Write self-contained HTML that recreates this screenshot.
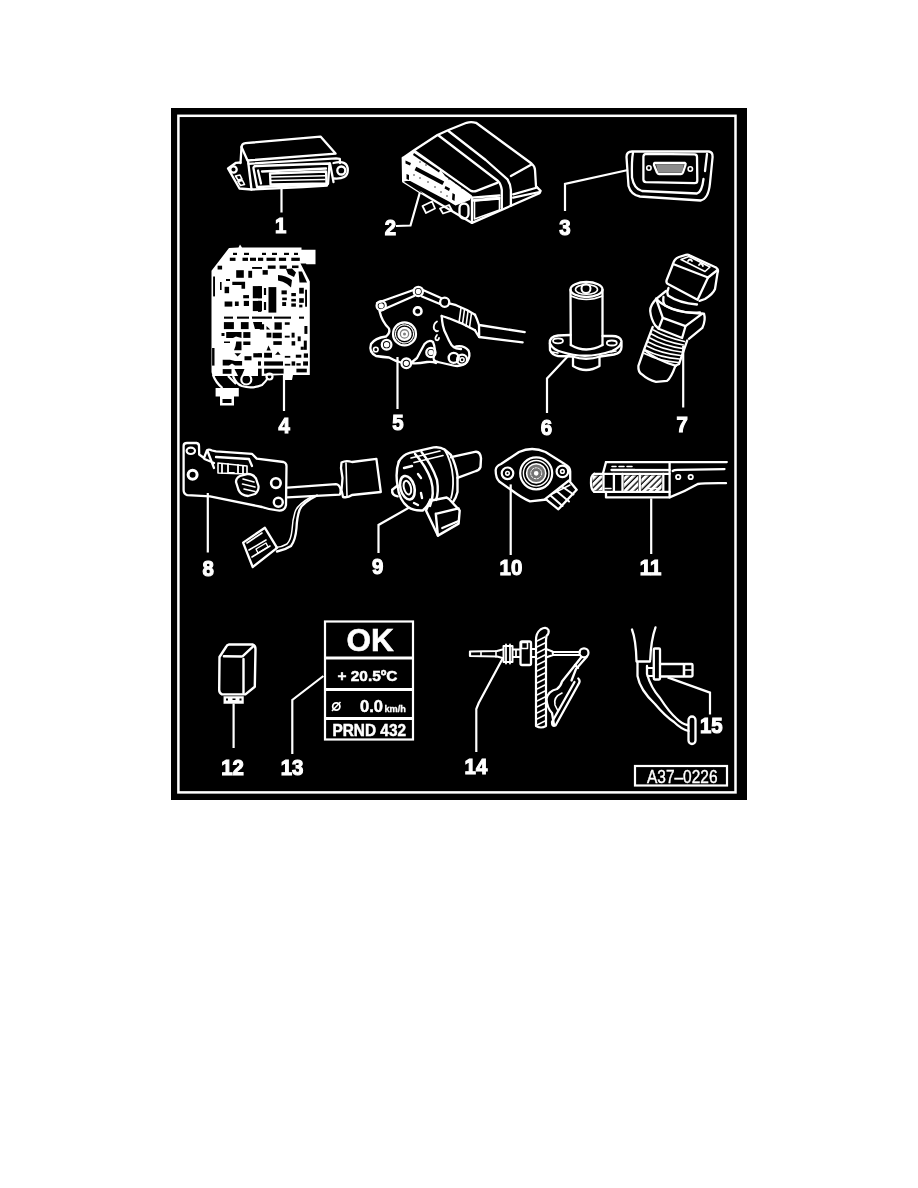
<!DOCTYPE html>
<html><head><meta charset="utf-8">
<style>
html,body{margin:0;padding:0;background:#fff;width:918px;height:1188px;overflow:hidden}
svg{position:absolute;left:0;top:0;display:block;filter:grayscale(1)}
text{font-family:"Liberation Sans",sans-serif;fill:#fff}
.lb{font-weight:bold;font-size:21.5px;stroke:#fff;stroke-width:1.1px}
</style></head>
<body>
<svg width="918" height="1188" viewBox="0 0 918 1188">
<rect x="171" y="108" width="576" height="692" fill="#000"/>
<rect x="178.4" y="115.8" width="557.1" height="676.6" fill="none" stroke="#fff" stroke-width="2.5"/>
<text transform="translate(275.00,232.95) scale(0.95,1)" class="lb">1</text>
<text transform="translate(384.85,234.80) scale(0.95,1)" class="lb">2</text>
<text transform="translate(559.35,234.70) scale(0.95,1)" class="lb">3</text>
<text transform="translate(278.40,432.60) scale(0.95,1)" class="lb">4</text>
<text transform="translate(392.30,430.35) scale(0.95,1)" class="lb">5</text>
<text transform="translate(540.85,434.60) scale(0.95,1)" class="lb">6</text>
<text transform="translate(676.60,432.05) scale(0.95,1)" class="lb">7</text>
<text transform="translate(202.45,575.65) scale(0.95,1)" class="lb">8</text>
<text transform="translate(372.00,574.00) scale(0.95,1)" class="lb">9</text>
<text transform="translate(499.55,575.40) scale(0.95,1)" class="lb">10</text>
<text transform="translate(639.70,574.50) scale(0.95,1)" class="lb">11</text>
<text transform="translate(221.25,774.70) scale(0.95,1)" class="lb">12</text>
<text transform="translate(280.75,774.70) scale(0.95,1)" class="lb">13</text>
<text transform="translate(464.60,774.25) scale(0.95,1)" class="lb">14</text>
<text transform="translate(699.90,732.95) scale(0.95,1)" class="lb">15</text>
<g id="c13" fill="none" stroke="#fff" stroke-width="2.2">
<rect x="325" y="621.5" width="88" height="118"/>
<line x1="325" y1="658" x2="413" y2="658" stroke-width="3"/>
<line x1="325" y1="689.5" x2="413" y2="689.5" stroke-width="3"/>
<line x1="325" y1="718.5" x2="413" y2="718.5" stroke-width="3"/>
</g>
<g fill="#fff" stroke="none">
<text x="346.5" y="651" style="font-weight:bold;font-size:31.5px;stroke:#fff;stroke-width:0.6px">OK</text>
<text x="337.5" y="680.8" style="font-weight:bold;font-size:15.5px;stroke:#fff;stroke-width:0.5px" textLength="60" lengthAdjust="spacingAndGlyphs">+ 20.5ºC</text>
<circle cx="336.3" cy="706.5" r="3.6" fill="none" stroke="#fff" stroke-width="1.8"/><path d="M332 711 L340.5 702" stroke="#fff" stroke-width="1.6"/>
<text x="360" y="711.8" style="font-weight:bold;font-size:16.5px;stroke:#fff;stroke-width:0.5px">0.0</text>
<text x="384.5" y="711.5" style="font-weight:bold;font-size:9px;stroke:#fff;stroke-width:0.3px" textLength="21.5" lengthAdjust="spacingAndGlyphs">km/h</text>
<text x="332.5" y="736" style="font-weight:bold;font-size:16.5px;stroke:#fff;stroke-width:0.5px" textLength="73.5" lengthAdjust="spacingAndGlyphs">PRND 432</text>
</g>

<g id="a37">
<rect x="635" y="766" width="92" height="19.5" fill="none" stroke="#fff" stroke-width="2.2"/>
<text x="647" y="782.7" style="font-size:17.5px;stroke:#fff;stroke-width:0.4px" textLength="70.5" lengthAdjust="spacingAndGlyphs">A37–0226</text>
</g>

<g id="leaders" fill="none" stroke="#fff" stroke-width="2.2">
<path d="M281.5 188 V212.5"/>
<path d="M420 192 L410.5 225.5 L396 226"/>
<path d="M628 170 L565 184 V211"/>
<path d="M284 374 V411"/>
<path d="M397.5 357 V409"/>
<path d="M569.5 354.5 L547 378.5 V413"/>
<path d="M683.2 346 V407.5"/>
<path d="M207.8 493 V552.5"/>
<path d="M409.6 507.3 L378.5 525 V553"/>
<path d="M510.7 484.4 V555"/>
<path d="M651.2 498.4 V554"/>
<path d="M233.6 703.5 V748"/>
<path d="M323.4 676 L292.3 700 V754"/>
<path d="M502.4 659 L478.7 703 L476.3 709 V752"/>
<path d="M667.6 677.4 L710 692.6 V714.5"/>
</g>



<g id="c1" fill="none" stroke="#fff" stroke-width="2.3" stroke-linejoin="round" stroke-linecap="round">
<path d="M241.5 147 Q241.8 143.6 245.5 143.2 L320.5 136.6 L335.5 153.6 L247.5 160.5 Z"/>
<path d="M241.5 147 L240.5 163"/>
<path d="M248.5 163.8 L336 158.3 L339.8 158.8 L340 163"/>
<path d="M248 160.5 L251.5 189.5 L303 187 L327 185.5"/>
<path d="M240.5 162.5 L236 162.8 L228 168.5 L239.5 188.5 L251.5 189.5"/>
<circle cx="233.5" cy="169.5" r="3.2"/>
<path d="M235.5 176 L240 175 L242 179 L238 180 Z M238 181.5 L242.5 180.5 L244.5 184.5 L240.5 185.5 Z" stroke-width="1.6"/>
<path d="M253.5 168.5 Q253 166.2 256 166 L329.5 163.5 L328 184 L257 187 Z"/>
<path d="M258 170.5 L261 183.5"/>
<path d="M262 171.5 L326 168.5"/>
<path d="M270 173.5 L326 171.5 L326.5 183.5 L270.5 184.5 Z"/>
<path d="M271 177 L325 175.8 M271 180.5 L325 179.5" stroke-width="1.4"/>
<path d="M333.5 163 Q348 159.5 347.8 170.5 Q347.5 179.5 334 178.5"/>
<circle cx="341.3" cy="170.5" r="4"/>
<path d="M330 163.5 L333.5 182"/>
</g>

<g id="c2" fill="none" stroke="#fff" stroke-width="2.3" stroke-linejoin="round" stroke-linecap="round">
<path d="M403 158 L414.5 150 L437.5 135 L448.5 130 L466.5 122.8 Q471 121.3 476 122.8 L531.5 163.5 Q535 166.5 535 170 L536 186.3 L540.6 190.9 L539.5 193.2 L472 222.9"/>
<path d="M414.5 151 L470.9 190.9 Q474 192 476.6 190.9 L497.2 182.9 M510.9 176 L531.5 164.6"/>
<path d="M438 135 L498 181 Q501 184 501.8 190 L501.8 208"/>
<path d="M448.5 131 L485.7 160 L507.5 179.4 Q510.5 184 510.9 190 L510.9 205.8"/>
<path d="M440 174.9 L472 197.7 L499.5 195.5 M472 200.5 L499.5 198 M513.2 194.3 L537.2 187.5 M513.2 197.7 L539.5 192"/>
<path d="M472 197.7 L472 222.9"/>
<path d="M474.5 201 L499.5 199 L499.5 210 L474.5 219 Z" stroke-width="1.6"/>
<path d="M402.8 158 L403.2 181.6 L419.8 192.1 L472 222.9"/>
<path fill="#fff" stroke="none" d="M404 157 L409 154 L414.5 151 L440 169 L445 176 L472 195.5 L470 200 L455.5 205.5 L448 201 L410.2 181 L404 181 Z"/>
<g fill="#000" stroke="none">
<path d="M416.3 166.8 L444.2 181.6 L442.4 185.1 L414.6 170.3 Z"/>
<path d="M405.5 160.5 L411 163 L410 165.5 L405.5 163.5 Z"/>
<path d="M445.5 186 L450 188.5 L449 191 L444.5 188.5 Z"/>
<path d="M452.5 193 L455 194.5 L454.5 201 L452 199.5 Z"/>
<path d="M406.5 174 L409 175 L409 180 L406.5 179 Z"/>
<path d="M403.5 181.5 L419.8 192 L423 193.5 L410.2 182.5 Z"/>
<path d="M414 153 L440 170.5 L439 172.5 L413 155 Z"/>
<circle cx="420" cy="162" r="0.7"/><circle cx="426" cy="165" r="0.7"/><circle cx="449" cy="179" r="0.7"/><circle cx="456" cy="183" r="0.7"/><circle cx="462" cy="188" r="0.7"/>
<circle cx="414" cy="175" r="0.7"/><circle cx="420" cy="178" r="0.7"/><circle cx="428" cy="182" r="0.7"/><circle cx="435" cy="187" r="0.7"/><circle cx="441" cy="192" r="0.7"/><circle cx="447" cy="196" r="0.7"/>
</g>
<path d="M422.5 206 L432 201.5 L435 208.5 L426 213 Z M440 208.5 L449 205 L452 210.5 L443 213.5 Z" stroke-width="1.8"/>
<rect x="459.5" y="203.5" width="9" height="15" rx="4.5"/>
<path d="M393 116.5 L398 116.5" stroke-width="1.2"/>
</g>

<g id="c3" fill="none" stroke="#fff" stroke-width="2.3" stroke-linejoin="round" stroke-linecap="round">
<path d="M626.5 157 Q626.5 151.5 632 151.5 L709 151.5 Q712.8 152 712.6 157 L710 183 Q708.5 199 700.5 200.5 L640 196.5 Q631 195 628.5 186 Z"/>
<path d="M633 152.8 Q631.5 160 632 177.5 Q634 189 642 191 L697 193.5 Q702 192 703.5 179"/>
<path d="M707 154 L705 171"/>
<path d="M646.5 153.8 L694.5 154.3 Q697 154.5 697 157 L697.3 180.5 Q697.3 183.2 694.5 183.2 L646 182.2 Q643.4 182 643.4 179.5 L643.4 156.5 Q643.5 153.8 646.5 153.8 Z"/>
<path d="M655 163 L685 163 Q686 163.5 685.5 165 L683 172.5 Q682.5 174 681 174 L659 174 Q657.5 174 657 172.5 L654 165 Q653.8 163.2 655 163 Z"/>
<path d="M656 164.5 L684 164.5 L682 172.5 L658 172.5 Z" fill="#fff" fill-opacity="0.55" stroke="none"/>
<circle cx="648.9" cy="168" r="2.2" stroke-width="1.6"/>
<circle cx="690.3" cy="169" r="2.2" stroke-width="1.6"/>
</g>

<g id="c4">
<path fill="#fff" d="M229 248 L238.5 247.5 L240 244.5 L242 247.5 L301.5 247.5 L301.5 249.8 L306.4 249.8 L315.5 249.8 L315.5 264.2 L306.4 264.2 L306 263.6 L300.5 263.6 L309.8 281.5 L309.8 375 L293 375 L292 380 L285 380 L284 375 L262 376 L212.5 376 L211.5 372 L211.5 270.8 L229 248 Z"/>
<g fill="#000">
<rect x="229.8" y="257.7" width="5.7" height="3.2"/>
<rect x="242.5" y="257.7" width="5.5" height="3.2"/>
<rect x="250.0" y="257.7" width="6.0" height="3.2"/>
<rect x="258.0" y="257.7" width="5.2" height="3.2"/>
<rect x="266.5" y="257.7" width="9.1" height="3.2"/>
<rect x="278.9" y="257.7" width="7.2" height="3.2"/>
<rect x="291.3" y="257.7" width="8.5" height="3.2"/>
<rect x="233.0" y="252.8" width="4.0" height="2.2"/>
<rect x="244.0" y="252.8" width="5.0" height="2.2"/>
<rect x="262.0" y="252.8" width="4.0" height="2.2"/>
<rect x="272.0" y="252.8" width="5.0" height="2.2"/>
<rect x="284.0" y="252.8" width="5.0" height="2.2"/>
<rect x="294.0" y="252.8" width="4.0" height="2.2"/>
<rect x="217.6" y="265.7" width="4.5" height="3.8"/>
<rect x="236.2" y="270.2" width="7.6" height="7.6"/>
<rect x="248.3" y="270.8" width="3.8" height="7.0"/>
<rect x="252.1" y="267.0" width="9.9" height="1.9"/>
<rect x="213.1" y="276.5" width="1.9" height="19.9"/>
<rect x="224.6" y="286.8" width="4.5" height="6.4"/>
<rect x="252.8" y="286.1" width="9.2" height="12.2"/>
<rect x="224.6" y="301.5" width="7.7" height="5.1"/>
<rect x="234.9" y="301.5" width="3.8" height="4.5"/>
<rect x="243.8" y="300.9" width="5.2" height="5.1"/>
<rect x="252.8" y="300.9" width="9.2" height="10.2"/>
<rect x="243.2" y="295.1" width="5.8" height="3.2"/>
<rect x="220.0" y="282.0" width="1.6" height="8.0"/>
<rect x="226.0" y="279.0" width="4.0" height="2.0"/>
<rect x="267.8" y="265.5" width="7.8" height="3.3"/>
<rect x="279.6" y="265.5" width="7.2" height="3.3"/>
<rect x="292.0" y="265.5" width="6.5" height="2.6"/>
<rect x="262.6" y="270.1" width="5.2" height="4.6"/>
<rect x="258.0" y="286.4" width="3.3" height="11.8"/>
<rect x="268.5" y="287.1" width="7.8" height="25.5"/>
<rect x="258.0" y="300.8" width="3.3" height="11.1"/>
<rect x="263.9" y="288.0" width="2.2" height="7.0"/>
<rect x="263.9" y="302.0" width="2.2" height="8.0"/>
<rect x="281.5" y="290.4" width="5.3" height="3.9"/>
<rect x="282.2" y="297.6" width="4.6" height="2.6"/>
<rect x="282.2" y="302.1" width="3.9" height="3.9"/>
<rect x="291.3" y="293.0" width="4.6" height="3.2"/>
<rect x="291.3" y="298.9" width="4.6" height="2.6"/>
<rect x="291.3" y="303.4" width="4.6" height="3.3"/>
<rect x="299.2" y="287.8" width="4.6" height="5.8"/>
<rect x="299.2" y="298.2" width="4.6" height="4.6"/>
<rect x="299.2" y="304.7" width="3.2" height="2.7"/>
<rect x="305.1" y="289.7" width="1.9" height="17.0"/>
<rect x="224.0" y="316.6" width="9.0" height="2.1"/>
<rect x="237.0" y="316.6" width="12.0" height="2.1"/>
<rect x="252.0" y="316.6" width="20.0" height="2.1"/>
<rect x="274.0" y="316.6" width="17.0" height="2.1"/>
<rect x="299.0" y="316.6" width="5.0" height="2.1"/>
<rect x="223.9" y="322.1" width="10.0" height="7.0"/>
<rect x="240.9" y="322.1" width="7.7" height="7.0"/>
<rect x="243.3" y="332.1" width="7.1" height="5.8"/>
<rect x="243.3" y="341.5" width="7.1" height="3.5"/>
<rect x="244.5" y="356.2" width="7.0" height="4.1"/>
<rect x="253.3" y="353.2" width="8.7" height="4.2"/>
<rect x="222.7" y="369.1" width="8.8" height="4.7"/>
<rect x="212.1" y="348.0" width="2.4" height="17.6"/>
<rect x="221.5" y="333.0" width="3.0" height="3.0"/>
<rect x="224.0" y="341.5" width="6.0" height="1.5"/>
<rect x="274.5" y="322.3" width="7.3" height="7.3"/>
<rect x="259.8" y="324.2" width="4.3" height="5.4"/>
<rect x="284.8" y="322.3" width="4.9" height="2.5"/>
<rect x="304.4" y="326.0" width="3.0" height="7.9"/>
<rect x="266.5" y="332.7" width="4.9" height="4.9"/>
<rect x="272.6" y="332.7" width="9.2" height="5.5"/>
<rect x="284.8" y="335.7" width="4.9" height="1.9"/>
<rect x="291.6" y="332.7" width="3.0" height="4.9"/>
<rect x="297.7" y="336.4" width="3.0" height="4.8"/>
<rect x="273.3" y="341.2" width="8.5" height="3.7"/>
<rect x="291.6" y="341.2" width="3.6" height="4.3"/>
<rect x="303.8" y="340.6" width="3.0" height="9.2"/>
<rect x="300.7" y="346.7" width="3.1" height="3.1"/>
<rect x="258.0" y="353.4" width="3.0" height="3.1"/>
<rect x="264.1" y="352.8" width="7.9" height="4.9"/>
<rect x="284.8" y="355.9" width="5.5" height="1.8"/>
<rect x="295.8" y="354.7" width="5.5" height="3.0"/>
<rect x="303.8" y="353.4" width="4.2" height="4.3"/>
<rect x="258.0" y="361.4" width="3.0" height="4.2"/>
<rect x="264.1" y="361.4" width="18.9" height="4.2"/>
<rect x="284.8" y="363.8" width="5.5" height="1.8"/>
<rect x="291.6" y="361.4" width="3.6" height="4.2"/>
<rect x="296.4" y="363.2" width="4.3" height="2.4"/>
<rect x="303.1" y="361.4" width="4.9" height="4.2"/>
<rect x="258.0" y="368.7" width="3.7" height="7.3"/>
<rect x="264.1" y="368.7" width="19.5" height="4.9"/>
<rect x="296.4" y="368.7" width="10.4" height="3.7"/>
<path d="M232.3 281.7 L245.1 281.7 L245.1 288.7 L241.5 288.7 L241.5 285 L232.3 285 Z"/>
<path d="M286 269 L292 268.5 L296 272.5 L294 277 L288 274 Z"/>
<path d="M298.5 271.4 L302 271.4 L307 282.5 L299.5 282.5 Z"/>
<path d="M278 275 Q286 275.5 292 280 L291 287.5 L287 284 Q283 281 278 280.5 Z"/>
<path d="M226.2 332.1 L241.5 332.1 L241.5 337.9 L236 336.5 L233 337.9 L226.2 337.9 Z"/>
<path d="M236.2 341.5 L241.5 341.5 L241.5 350.3 L234 350.3 Q236 346 236.2 341.5 Z"/>
<path d="M234.5 353.2 L241 353.2 L237.5 356.5 Z"/>
<path d="M222.7 359.7 L230 359.7 L235 361 L242.1 361 L242.1 365.6 L235 365.6 L232 363.5 L229 365.6 L222.7 365.6 Z"/>
<path d="M234.5 369.1 L244.5 369.1 L240 379.7 Z"/>
<path d="M253 322 L262 322 L262 329 L255 329 Z"/>
<path d="M266.5 326 L270.2 329.6 L266.5 329.6 Z"/>
<path d="M266.5 350.4 L270.8 350.4 L268.5 345.5 Z"/>
<path d="M275.1 354.7 L280.6 354.7 L278 351.6 Z"/>
</g>
<g fill="none" stroke="#fff" stroke-width="2.2" stroke-linejoin="round">
<path d="M213 375 Q216 383 222.5 388"/>
<circle cx="246.3" cy="379.5" r="5"/>
<path d="M233 376 Q236 384 242 386 Q252 389 262 385 Q266 381 268 378"/>
<circle cx="269.5" cy="376.5" r="3"/>
<path d="M228 376 L236 384"/>
</g>
<path fill="#fff" d="M215.6 388 L238.8 388 L238.8 396.5 L234 396.5 L234 405.5 L220 405.5 L220 396.5 L215.6 396.5 Z"/>
<rect x="222.5" y="399" width="9" height="4" fill="#000"/>
</g>
<g id="c5" fill="none" stroke="#fff" stroke-width="2.3" stroke-linejoin="round" stroke-linecap="round">
<path d="M377 303 L413.5 290 M381 310.5 L414 296 M423 290 L441 298 M422 296.5 L440 304"/>
<path d="M379.5 311 Q382 322 389 328.5 Q390.5 333 386 336.5 Q375 338 371 344 Q368.5 352 376 356 Q383 357 389 357.5 Q395 361 401 362.5 M411.5 362.5 L417 358 Q420 352 424.5 344 Q429 339 433 342 Q436 349 434 356 Q432 361 438 362 L451 365 Q461 368 467 362 Q471 356 468.5 350.5 Q464 345 456 346.5 L454 347"/>
<path d="M411 363 Q416 364 427 362 Q433 361.5 436 363"/>
<circle cx="418.3" cy="291.4" r="4.6"/>
<circle cx="418.3" cy="291.4" r="1.5" fill="#fff"/>
<circle cx="381.2" cy="305.8" r="4.6"/>
<circle cx="381.2" cy="305.8" r="1.5" fill="#fff"/>
<circle cx="444.7" cy="302.2" r="4.6"/>
<circle cx="417.7" cy="311.2" r="3.8" stroke-width="2.6"/>
<circle cx="404.5" cy="333.9" r="11.5" stroke-width="2.2"/>
<circle cx="404.5" cy="333.9" r="9" stroke-width="1.2" stroke-dasharray="1.5 1"/>
<circle cx="404.5" cy="333.9" r="6" stroke-width="2.4" fill="#fff" fill-opacity="0.5"/>
<circle cx="404.5" cy="333.9" r="2.5" stroke-width="2"/>
<circle cx="386.6" cy="344.7" r="4.8"/>
<circle cx="386.6" cy="344.7" r="1.6" fill="#fff"/>
<circle cx="375.8" cy="349.5" r="2.3" stroke-width="1.6"/>
<circle cx="406.3" cy="363.3" r="4.8"/>
<circle cx="406.3" cy="363.3" r="1.5" fill="#fff"/>
<circle cx="430.9" cy="352.5" r="4.6"/>
<circle cx="430.9" cy="352.5" r="1.5" fill="#fff"/>
<circle cx="453.7" cy="357.9" r="5" stroke-width="2.4"/>
<circle cx="462.1" cy="359.7" r="5"/>
<circle cx="462.1" cy="359.7" r="2" stroke-width="1.5"/>
<path d="M448.9 303.4 Q452 303.8 456.1 305.2 L466.9 310 L475 314.8 M441.7 316 Q445 317 448.9 318.3 L460.9 323.1 L475 330.3"/>
<path d="M461 308 L459 322.5 M464.5 309.5 L462.5 324 M468 311.5 L466 326 M471.5 313 L469.5 327.5" stroke-width="1.6"/>
<path d="M475 314.8 Q477 319 479 325 L524.7 332.1 M475 330.3 Q477 334 479.2 337 L522.6 342.4"/>
<path d="M479 325 L479.2 337"/>
<path d="M441.7 316 Q442 321 442.9 325.5 Q444 331 446.5 335.1 Q449 341 451.3 344.7 Q454 348 456.1 348.3 L461 349"/>
<path d="M437 321.5 Q433 324 434 329 Q436 332 438 331 M437 335 Q434.5 338 436 340 Q438.5 341 439 338" stroke-width="1.8"/>
</g>

<g id="c6" fill="none" stroke="#fff" stroke-width="2.3" stroke-linejoin="round" stroke-linecap="round">
<path d="M570.5 290 L570.8 345"/>
<path d="M602.5 290 L602.5 345"/>
<ellipse cx="586.5" cy="289.5" rx="16" ry="7.5"/>
<ellipse cx="586.5" cy="289.5" rx="11" ry="4.8" stroke-width="1.6"/>
<circle cx="586" cy="288.5" r="4.5" stroke-width="2"/>
<path d="M571 296 Q586 303 602.5 296" stroke-width="1.6"/>
<path d="M570.8 345 Q586 354 602.5 345"/>
<path d="M570.5 335 L558 335.5 Q549.5 336.5 549.8 343 L550 350 Q552 355 558 356 L572.5 356.5 Q586 361 600 356.5 L614 354.5 Q621.5 353 621.5 347 L621.5 341 Q620 336 612 336 L602.5 336"/>
<path d="M550 343.5 Q553 350 562 352 Q586 360 612 351 Q620 347.5 621 343"/>
<ellipse cx="558" cy="340.8" rx="5" ry="2.5" stroke-width="1.8"/>
<ellipse cx="611.8" cy="343" rx="5" ry="2.5" stroke-width="1.8"/>
<path d="M552.5 352 L558 353 M616 351 L611 352" stroke-width="1.6"/>
<path d="M573 356.5 L573 366 Q586 374 599.5 366 L599.5 356.5"/>
</g>

<g id="c7" fill="none" stroke="#fff" stroke-width="2.3" stroke-linejoin="round" stroke-linecap="round">
<path d="M673 264 Q674 259 679 257 L686 254.8 Q688 254.3 690 255.5 L716 267.5 Q719 269.5 717.5 273 L715 289 Q713 294 705 299 L699.5 300.8"/>
<path d="M673 264 L708 277.5 L717.5 270"/>
<path d="M673 264 L666.5 280.5 Q666 283 668 284 L697.5 299.8 L708 277.5"/>
<path d="M681 259.5 L689 256.5 L710 267 L705 271.5 Z" stroke-width="1.6"/>
<path d="M688 261 Q690 258 692 261 M699 265 Q701 262 703 266" stroke-width="1.8"/>
<path d="M668.5 288 Q666.5 292 668 295.5 Q679 303 697 304.5"/>
<path d="M663.5 297 Q662.5 302 665 305.5 Q680 314 700 312.5"/>
<path d="M666 291 L656.9 298.4 Q650 305 650.2 311 Q651 319 655.2 325.4 L658.6 328.7"/>
<path d="M656 298.5 Q668 312 700 313.5 L704 313.6 Q706 320 702.3 327.9 L688.9 338.8"/>
<path d="M656.5 300 L662.8 317.8 L685.5 326.2 L702 313.8"/>
<path d="M662.8 317.8 L658.6 328.7 L682.1 338 L685.5 326.2"/>
<path d="M652.7 327 L644.3 349 L638.4 365.8 Q638 372 641.7 374.2 Q648 380 656 381.8 L667 380.9 Q671 378 675.4 365.8 L679 364 L687.2 340.5"/>
<path d="M653.5 330 Q665 337 684.5 341.5 M651.5 334 Q664 341.5 683.5 345 M650 338 Q663 345.5 682.5 348.5 M648.5 342 Q662 349.5 681.5 352 M647 346 Q661 353.5 680.5 355.5 M645.5 350 Q660 357.5 679.5 359 M644.5 353.5 Q659 361 678.5 362.5" stroke-width="1.5"/>
<path d="M644.3 350 Q656 360 676 365.8"/>
</g>

<g id="c8" fill="none" stroke="#fff" stroke-width="2.3" stroke-linejoin="round" stroke-linecap="round">
<path d="M183.6 446 Q183.6 443 187 443 L196.5 443 Q199 443.5 199 446 L199.2 454.5 L204 458 L207 450.2 Q209 449 212 450.5 L216 451.4 L251.9 453.8 L256.7 458.6 L283.5 462 Q286.5 463 286.5 466 L286 505 Q285 510.5 279.5 510.7 Q270 510 262 507 L210 496.3 L187.2 495.1 Q183.6 494 183.6 490 Z"/>
<ellipse cx="190.8" cy="450.8" rx="4.2" ry="3.2" stroke-width="2.2"/>
<circle cx="192.6" cy="474.8" r="4.5" stroke-width="3"/>
<circle cx="275.9" cy="483.1" r="4.8" stroke-width="2.6"/>
<circle cx="278.3" cy="502.3" r="4.5" stroke-width="2.4"/>
<path d="M207.5 451 L214 468 M204.5 459 L214 463 M216 457 L249 459 L252 466"/>
<path d="M218 463 L247 466 L247 474 L218 473 Z" stroke-width="1.6"/>
<path d="M222 464 L222 473 M228 464 L228 473 L234 473 M238 465 L238 473 M243 466 L243 474" stroke-width="1.8"/>
<path d="M240 476 Q236 478 236 482 L238.5 490 Q241 495.5 248 496 L255 494 Q259 491 258.5 486 L256 478.5 Q253 474 248 474 Z"/>
<path d="M243 479 L254 482 M242.5 484 L255 487 M244 489 L255 491.5" stroke-width="1.6"/>
<path d="M287.5 487.7 L336 484.2 Q339 484.5 340.5 489 Q341 493 339.8 494.7 L287.5 497.3"/>
<path d="M341.5 462.5 Q346 460 352 462 L376.4 458.9 L380.8 492 L352 495 Q348 498 343 497 L341.5 490 L342.5 478 L341 468 Z"/>
<path d="M346 463 L347 496" stroke-width="1.6"/>
<path d="M317 495.5 Q302 503 299.5 510 Q297 517 296.5 528 Q295.5 540 291 546 Q285 550 277 551.5"/>
<path d="M311 497 Q297 505 295 512 Q292.5 520 292 530 Q291 540 287 544 Q282 547 276 547.5" stroke-width="1.5"/>
<path d="M243.1 542.6 L264.9 527.8 L277.1 547.8 L252.7 567 Z"/>
<path d="M247 543 L262 533 M249 550 L266 540 M252 557 L270 546" stroke-width="1.6"/>
<path d="M256 549 L266 543 L268 547 L258 553 Z" stroke-width="1.4"/>
</g>

<g id="c9" fill="none" stroke="#fff" stroke-width="2.4" stroke-linejoin="round" stroke-linecap="round">
<path d="M398.7 462 Q402 455 409.6 452.8 L433.6 447.4 Q440 446.5 444.5 449.5 L451 455 Q456 465 457.5 475.7 L457.5 492 Q456 498 453.2 501.8"/>
<path d="M399 461 Q395 472 397.6 486 Q399 500 408 507 Q414 511 422.7 510.5 Q428 506 430.3 499.6"/>
<path d="M415 453.9 Q426 466 431 480 Q435 494 430 506 M421.5 452 Q432 465 437 480 Q439 492 436 500"/>
<path d="M444.5 449.5 Q452 462 453 478 Q453.5 490 451 498" stroke-width="1.8"/>
<path d="M411 458 L440 451 M414 462.5 L443 455.5" stroke-width="1.6"/>
<ellipse cx="407.4" cy="487.7" rx="7" ry="12" transform="rotate(-15 407.4 487.7)" stroke-width="2.6"/>
<ellipse cx="407.4" cy="487.7" rx="3.5" ry="7" transform="rotate(-15 407.4 487.7)" stroke-width="2"/>
<path d="M404 468 L412 466 M418 474 L421 478 M421 493 L422 498 M414 503 L418 505" stroke-width="2.4"/>
<path d="M451 457.2 L476.1 451.7 Q480.4 452 481 458.3 L480.5 467 Q479.3 470.2 476 471 L457.5 477.9"/>
<path d="M397.6 485.5 L392.2 489.8 Q391.5 495 397.6 496.4"/>
<path d="M430.3 500.7 L446.6 497.5 L449 499 L459.7 510.5 L458.6 523.6 L437.9 535.6 L426 510.5 Z"/>
<path d="M435.8 513.8 L458.6 508.4 M435.8 513.8 L437.9 535.6 M442.3 528 L458.6 521"/>
</g>

<g id="c10" fill="none" stroke="#fff" stroke-width="2.3" stroke-linejoin="round" stroke-linecap="round">
<path d="M570.2 481 L570.2 472 Q570.5 467 565 464.2 L545.5 452 Q532 446 519 452 L501 464 Q496 466 495.7 470 Q495.5 478 499.6 481.8 L512.7 491 Q522 498 530 501.4 L546.5 499.5"/>
<circle cx="536.2" cy="473.3" r="16" stroke-width="2.2"/>
<circle cx="536.2" cy="473.3" r="12.8" stroke-width="1.4"/>
<circle cx="536.2" cy="473.3" r="9.6" stroke-width="1.6" fill="#fff" fill-opacity="0.45"/>
<circle cx="536.2" cy="473.3" r="5.5" stroke-width="1" stroke-dasharray="1.5 1.5"/>
<circle cx="536.2" cy="473.3" r="1.2" fill="#fff"/>
<circle cx="507.5" cy="473.3" r="5.8" stroke-width="2.2"/>
<circle cx="507.5" cy="473.3" r="1.8" stroke-width="1.6"/>
<circle cx="562.4" cy="471.4" r="5.8" stroke-width="2.2"/>
<circle cx="562.4" cy="471.4" r="1.8" stroke-width="1.6"/>
<path d="M545.4 498.8 L568.9 480.5 L576.7 489.7 L558.4 509.3 Z"/>
<path d="M550.5 495.5 L562.5 506 M556.5 491 L569 501.5 M562 486.5 L573.5 494.5" stroke-width="2"/>
<path d="M553 493.5 L570 485" stroke-width="1.4"/>
</g>

<g id="c11" fill="none" stroke="#fff" stroke-width="2.3" stroke-linejoin="round" stroke-linecap="round">
<defs><pattern id="hatch" patternUnits="userSpaceOnUse" width="4.5" height="4.5" patternTransform="rotate(45)"><rect width="2" height="4.5" fill="#fff"/></pattern></defs>
<path d="M606 462.1 L726.8 462.1"/>
<path d="M606 462.1 L602.9 473.8"/>
<path d="M611.5 470 L669.6 470"/>
<rect x="635" y="464.5" width="34" height="4" fill="#000" stroke="none"/>
<path d="M612 466.5 L616 466.5 M619 466.5 L624 466.5 M627 466.5 L632 466.5" stroke-width="1.6"/>
<path d="M594.3 473.8 L669.6 473.8 M594.3 491.9 L669.6 491.9"/>
<path d="M594.3 473.8 Q590.5 476 591 483 Q591 490 594.3 491.9"/>
<path d="M606 492 L606 497.4 L669.6 497.4 Q684 492 697.8 484 Q703 483 726 483.2"/>
<path d="M669.6 462.1 L669.6 497.4"/>
<path d="M672.7 471 Q674 469.9 677.4 469.9 L724.5 469.1"/>
<circle cx="678.2" cy="477" r="2.2" stroke-width="1.8"/>
<circle cx="690.7" cy="477" r="2.2" stroke-width="1.8"/>
<rect x="624.1" y="475.4" width="14.1" height="15.7" fill="url(#hatch)" stroke="none"/>
<rect x="641.3" y="475.4" width="20.4" height="15.7" fill="url(#hatch)" stroke="none"/>
<rect x="592.5" y="475.5" width="10" height="15" fill="url(#hatch)" stroke="none"/>
<path d="M613.9 473.8 L613.9 491.9 M622.5 473.8 L622.5 491.9 M639.8 473.8 L639.8 491.9 M663.3 473.8 L663.3 491.9 M603.5 474 L603.5 491.9"/>
<path d="M605 488.5 L611 488.5 M647 488.5 L660 488.5" stroke-width="1.6"/>
</g>

<g id="c12" fill="none" stroke="#fff" stroke-width="2.4" stroke-linejoin="round" stroke-linecap="round">
<path d="M229 644.5 L252.5 644.5 Q255.5 645.5 255.5 649 L254.8 686.8 L245.4 694.4 L222 694.4 Q219.2 693 219.2 690 L219.5 657 L226 647 Q227 644.6 229 644.5 Z"/>
<path d="M223.9 656.2 L241.6 656.5 M242.8 656.2 L252.9 646.7 M243.5 659 L243.5 693"/>
<path d="M224 696.5 L243.5 696.5 L243.5 703.5 L224 703.5 Z" fill="#fff" stroke-width="0.5"/>
<rect x="226" y="698.5" width="2" height="2" fill="#000" stroke="none"/>
<rect x="232.5" y="698.5" width="3" height="1.5" fill="#000" stroke="none"/>
<rect x="239.5" y="698.5" width="2" height="2" fill="#000" stroke="none"/>
</g>

<g id="c14" fill="none" stroke="#fff" stroke-width="2.3" stroke-linejoin="round" stroke-linecap="round">
<path d="M470 651.5 L497 651 L502.5 649.5 M470 656 L497 656.5 L502.5 658 M470 651.5 L470 656" stroke-width="2.2"/>
<path d="M481 652 L481 656 M496 651 L496 657" stroke-width="1.6"/>
<path d="M503.5 646 L512.5 646 L512.5 662 L503.5 662 Z" stroke-width="2"/>
<path d="M506 644.5 L506 663.5 M510 644.5 L510 663.5" stroke-width="1.8"/>
<path d="M513 649.5 L520 649.5 M513 657 L520 657 M516 649.5 L516 657" stroke-width="1.8"/>
<rect x="520.5" y="641.5" width="10.5" height="23.5" rx="1.5"/>
<rect x="521.5" y="642.5" width="6" height="6" stroke-width="1.6"/>
<path d="M531.5 649 L536 649 M531.5 657 L536 657 M546 649 L552.5 651.5 L553 655 L546 657.5" stroke-width="2"/>
<path d="M553 652 L580 652 M553 655 L580 655" stroke-width="1.8"/>
<circle cx="584" cy="652.8" r="4.5" stroke-width="2.2"/>
<path d="M536 726 L536 640 Q536 633 540.5 629.5 Q546 626 548.5 630 Q549.5 633 546.5 636 L546 640 L546 726 Q541 729 536 726 Z" stroke-width="2.2"/>
<path d="M537 641 L545 637 M537 647 L545 643 M537 653 L545 649 M537 659 L545 655 M537 665 L545 661 M537 671 L545 667 M537 677 L545 673 M537 683 L545 679 M537 689 L545 685 M537 695 L545 691 M537 701 L545 697 M537 707 L545 703 M537 713 L545 709 M537 719 L545 715 M537 725 L545 721" stroke-width="1.4"/>
<path d="M581.5 657 L562 681.5 Q561 686 557 689 Q548 691 546.5 699 Q547 708 552 713 L554 725"/>
<path d="M587 656.5 L576 669 L571.5 680.5"/>
<path d="M578.3 678.5 Q581 681 578 685 L555.5 725.5 Q552 727 552 722 L574.5 682" />
<path d="M562 693 Q553 697 555 705 L558 711" stroke-width="1.6"/>
<path d="M575 665 L578 668" stroke-width="2.4"/>
</g>

<g id="c15" fill="none" stroke="#fff" stroke-width="2.3" stroke-linejoin="round" stroke-linecap="round">
<path d="M632 629.5 Q636 640 636.5 661.5 L650 661.5"/>
<path d="M655.5 627.4 Q651 640 650.2 660"/>
<path d="M637.5 662 L637.5 676 Q640 690 655 704 Q665 716 674 722 Q681 729 688.5 731"/>
<path d="M647 666 L647 674 Q651 688 660 698 Q669 712 677 719 Q682 724 687.5 725"/>
<rect x="688.5" y="716.5" width="7" height="27.5" rx="3.5"/>
<rect x="653.8" y="648.5" width="6.2" height="31" rx="1"/>
<path d="M660 664 L684 664 L684 676.5 L660 676.5"/>
<rect x="684" y="664" width="8.5" height="12.5" rx="1"/>
<path d="M684 670 L692.5 670" stroke-width="1.6"/>
<path d="M647.5 668 L653.5 668 L653.5 676 L647.5 676" stroke-width="1.8"/>
</g>

</svg>
</body></html>
